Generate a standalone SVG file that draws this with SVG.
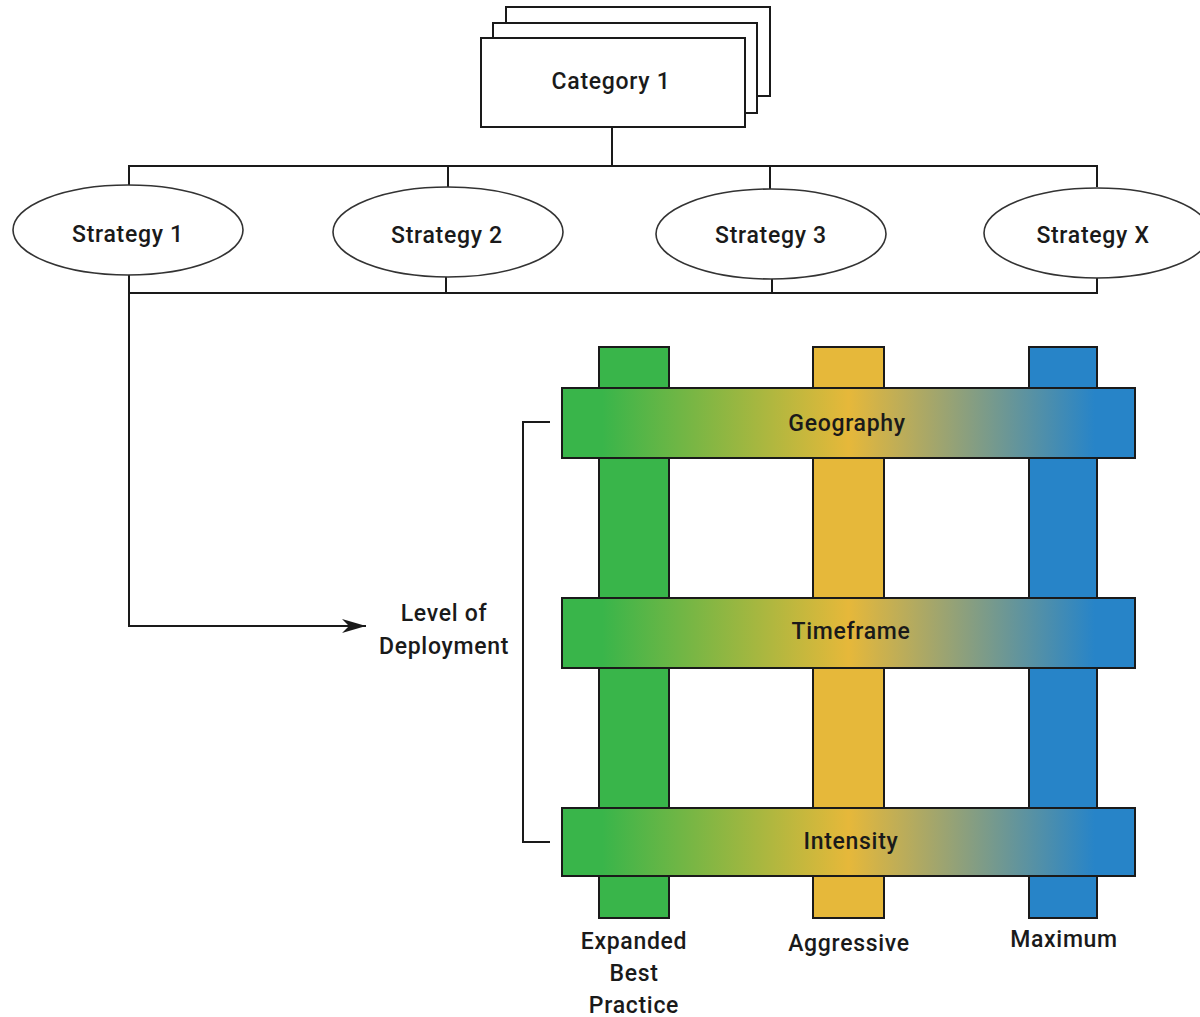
<svg xmlns="http://www.w3.org/2000/svg" width="1200" height="1017" viewBox="0 0 1200 1017">
<style>
.box{fill:#fff;stroke:#1a1a1a;stroke-width:2}
.ell{fill:#fff;stroke:#333;stroke-width:1.6}
.ln{fill:none;stroke:#1a1a1a;stroke-width:2}
.t{font-family:Roboto,"Liberation Sans",Arial,sans-serif;font-weight:500;font-size:23px;fill:#1a1a1a;text-anchor:middle;letter-spacing:0.7px}
.vg{fill:#39b54a;stroke:#1a1a1a;stroke-width:2}
.vy{fill:#e6b83a;stroke:#1a1a1a;stroke-width:2}
.vb{fill:#2784c8;stroke:#1a1a1a;stroke-width:2}
.hb{fill:url(#grad);stroke:#1a1a1a;stroke-width:2}
</style>
<defs>
<linearGradient id="grad" x1="562" y1="0" x2="1135" y2="0" gradientUnits="userSpaceOnUse">
<stop offset="0" stop-color="#39b54a"/>
<stop offset="0.07" stop-color="#39b54a"/>
<stop offset="0.5" stop-color="#e6b83a"/>
<stop offset="0.93" stop-color="#2784c8"/>
<stop offset="1" stop-color="#2784c8"/>
</linearGradient>
<marker id="arr" viewBox="0 0 24 14" refX="24" refY="7" markerWidth="24" markerHeight="14" markerUnits="userSpaceOnUse" orient="auto">
<path d="M0,0 L24,7 L0,14 L7,7 Z" fill="#1a1a1a"/>
</marker>
</defs>

<g id="connectors">
<line class="ln" x1="612" y1="127" x2="612" y2="166"/>
<polyline class="ln" points="129,186 129,166 1097,166 1097,187"/>
<line class="ln" x1="448" y1="166" x2="448" y2="187"/>
<line class="ln" x1="770" y1="166" x2="770" y2="189"/>
<polyline class="ln" points="129,275 129,293 1097,293 1097,278"/>
<line class="ln" x1="446" y1="277" x2="446" y2="293"/>
<line class="ln" x1="772" y1="279" x2="772" y2="293"/>
<polyline class="ln" points="129,293 129,626 366,626" marker-end="url(#arr)"/>
<polyline class="ln" points="550,422 523,422 523,842 550,842"/>
</g>

<g id="category1">
<rect class="box" x="506" y="7" width="264" height="89"/>
<rect class="box" x="493" y="23" width="264" height="90"/>
<rect class="box" x="481" y="38" width="264" height="89"/>
<text class="t" x="611" y="89">Category 1</text>
</g>

<g id="strategy1">
<ellipse class="ell" cx="128" cy="230" rx="115" ry="45"/>
<text class="t" x="128" y="242">Strategy 1</text>
</g>
<g id="strategy2">
<ellipse class="ell" cx="448" cy="232" rx="115" ry="45"/>
<text class="t" x="447" y="243">Strategy 2</text>
</g>
<g id="strategy3">
<ellipse class="ell" cx="771" cy="234" rx="115" ry="45"/>
<text class="t" x="771" y="243">Strategy 3</text>
</g>
<g id="strategyX">
<ellipse class="ell" cx="1097" cy="233" rx="113" ry="45"/>
<text class="t" x="1093" y="243">Strategy X</text>
</g>

<g id="level-of-deployment">
<text class="t" x="444" y="621">Level of</text>
<text class="t" x="444" y="654">Deployment</text>
</g>

<g id="col-expanded">
<rect class="vg" x="599" y="347" width="70" height="571"/>
<text class="t" x="634" y="949">Expanded</text>
<text class="t" x="634" y="981">Best</text>
<text class="t" x="634" y="1013">Practice</text>
</g>
<g id="col-aggressive">
<rect class="vy" x="813" y="347" width="71" height="571"/>
<text class="t" x="849" y="951">Aggressive</text>
</g>
<g id="col-maximum">
<rect class="vb" x="1029" y="347" width="68" height="571"/>
<text class="t" x="1064" y="947">Maximum</text>
</g>

<g id="row-geography">
<rect class="hb" x="562" y="388" width="573" height="70"/>
<text class="t" x="847" y="431">Geography</text>
</g>
<g id="row-timeframe">
<rect class="hb" x="562" y="598" width="573" height="70"/>
<text class="t" x="851" y="639">Timeframe</text>
</g>
<g id="row-intensity">
<rect class="hb" x="562" y="808" width="573" height="68"/>
<text class="t" x="851" y="849">Intensity</text>
</g>
</svg>
